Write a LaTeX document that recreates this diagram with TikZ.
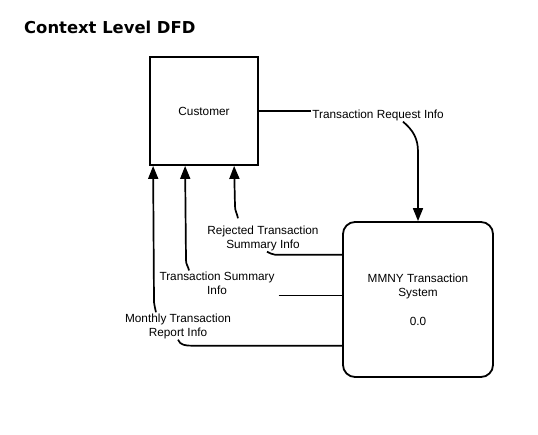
\documentclass[tikz,border=0pt]{standalone}
\usepackage{fontspec}
\setmainfont{Liberation Sans}
\newfontfamily\titlefont{DejaVu Sans}
\usetikzlibrary{arrows.meta}

\begin{document}
\begin{tikzpicture}[x=1pt, y=1pt,
    font=\fontsize{11.8}{14}\selectfont,
    entity/.style={draw, line width=1.8pt, minimum width=108pt, minimum height=108pt, inner sep=0pt},
    process/.style={draw, line width=1.8pt, rounded corners=12pt, align=center, minimum width=150pt, minimum height=155pt, inner sep=0pt},
    flowlabel/.style={align=center, inner sep=1pt},
    line/.style={line width=1.7pt},
    flow/.style={line width=1.7pt, -{Triangle[width=10pt,length=13pt]}}]
    \useasboundingbox (0,0) rectangle (538,434);

    % Title
    \node[anchor=base west, inner sep=0pt] (title) at (24,400) {\titlefont\fontsize{16.4}{18}\selectfont\bfseries Context Level DFD};

    % Entity and process
    \node[entity] (customer) at (204,323) {Customer};
    \node[process] (mmny) at (418,134.5) {MMNY Transaction\\System\\[15pt]0.0};

    % Flow labels
    \node[flowlabel] (flow-req) at (378,319) {Transaction Request Info};
    \node[flowlabel] (flow-rej) at (263,196) {Rejected Transaction\\Summary Info};
    \node[flowlabel] (flow-sum) at (217,151) {Transaction Summary\\Info};
    \node[flowlabel] (flow-mon) at (178,108) {Monthly Transaction\\Report Info};

    % Customer to system
    \draw[line] (customer.east) -- (customer.east -| flow-req.west);
    \draw[flow] ([xshift=25pt]flow-req.south) to[out=-40,in=90] ++(15,-30) -- (mmny.north);

    % System to customer
    \draw[line] ([xshift=4pt]flow-rej.south) to[out=-20,in=180] ([xshift=12pt,yshift=-3pt]flow-rej.south) -- ([yshift=-3pt]flow-rej.south -| mmny.west);
    \draw[flow] ([xshift=-25pt,yshift=6pt]flow-rej.north) to[out=100,in=-90] ++(-3,12) -- ([xshift=85pt]customer.south west);

    \draw[line] ([xshift=3pt]flow-sum.south east) -- (flow-sum.south east -| mmny.west);
    \draw[flow] ([xshift=-28pt]flow-sum.north) to[out=100,in=-90] ++(-3,10) -- ([xshift=36pt]customer.south west);

    \draw[line] (flow-mon.south) to[out=-70,in=180] ++(14,-6) coordinate (mon-end) -- (mon-end -| mmny.west);
    \draw[flow] ([xshift=-22pt]flow-mon.north) to[out=95,in=-90] ++(-2,10) -- ([xshift=4pt]customer.south west);

\end{tikzpicture}
\end{document}
